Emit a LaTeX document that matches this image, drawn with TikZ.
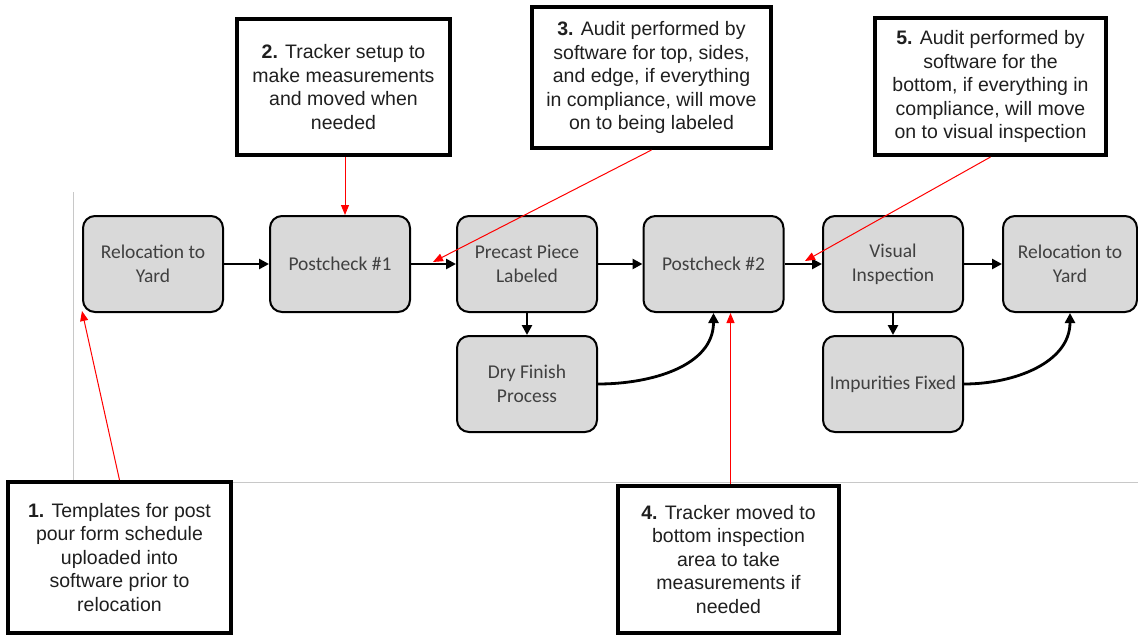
\documentclass[tikz,border=0pt]{standalone}
\usepackage{fontspec}
\setmainfont{Liberation Sans}
\newfontfamily\flowfont{Carlito}
\usetikzlibrary{arrows.meta}
\definecolor{boxgrey}{HTML}{D9D9D9}
\definecolor{flowtext}{HTML}{404040}
\definecolor{notetext}{HTML}{1F1F1F}
\definecolor{axisgrey}{HTML}{C8C8C8}
\tikzset{
  flowbox/.style={draw=black, line width=2pt, fill=boxgrey, rounded corners=12pt,
    minimum width=140pt, minimum height=96pt, align=center, text=flowtext,
    font=\flowfont\fontsize{19.5}{24}\selectfont, inner sep=0pt},
  notebox/.style={draw=black, line width=4pt, fill=white, align=center, text=notetext,
    font=\fontsize{19.5}{23.5}\selectfont, inner sep=0pt},
  flowarrow/.style={draw=black, line width=2.8pt, -{Triangle[width=10pt,length=10pt]}},
  notearrow/.style={draw=red, line width=1pt, -{Triangle[width=8pt,length=10pt]}}
}
\begin{document}
\begin{tikzpicture}[x=1pt,y=-1pt]
\useasboundingbox (0,0) rectangle (1138,635);
% light guide lines
\draw[axisgrey, line width=1pt] (73,192) -- (73,482) -- (1138,482);

% process steps
\node[flowbox] (A) at (153,264) {Relocation to\\Yard};
\node[flowbox] (B) at (340,264) {Postcheck \#1};
\node[flowbox] (C) at (527,264) {Precast Piece\\Labeled};
\node[flowbox] (D) at (713.5,264) {Postcheck \#2};
\node[flowbox] (E) at (527,384) {Dry Finish\\Process};
\node[flowbox] (F) at (893,264) {Visual\\Inspection};
\node[flowbox, minimum width=134pt] (G) at (1070,264) {Relocation to\\Yard};
\node[flowbox] (H) at (893,384) {Impurities Fixed};

% main flow
\draw[flowarrow] (A) -- (B);
\draw[flowarrow] (B) -- (C);
\draw[flowarrow] (C) -- (D);
\draw[flowarrow] (D) -- (F);
\draw[flowarrow] (F) -- (G);
\draw[flowarrow] (C) -- (E);
\draw[flowarrow] (F) -- (H);
\draw[flowarrow] (E.east) to[out=0,in=-90] (D.south);
\draw[flowarrow] (H.east) to[out=0,in=-90] (G.south);

% annotations
\node[notebox, minimum width=223pt, minimum height=151pt] (n1) at (119.5,557.5)
  {\textbf{1.} Templates for post\\pour form schedule\\uploaded into\\software prior to\\relocation};
\node[notebox, minimum width=213pt, minimum height=136pt] (n2) at (343.5,87)
  {\textbf{2.} Tracker setup to\\make measurements\\and moved when\\needed};
\node[notebox, minimum width=239pt, minimum height=141pt] (n3) at (651.5,77.5)
  {\textbf{3.} Audit performed by\\software for top, sides,\\and edge, if everything\\in compliance, will move\\on to being labeled};
\node[notebox, minimum width=221pt, minimum height=147pt] (n4) at (728.5,559.5)
  {\textbf{4.} Tracker moved to\\bottom inspection\\area to take\\measurements if\\needed};
\node[notebox, minimum width=231pt, minimum height=137pt] (n5) at (990.5,86.5)
  {\textbf{5.} Audit performed by\\software for the\\bottom, if everything in\\compliance, will move\\on to visual inspection};

% annotation pointers
\coordinate (p1) at (82,311);
\coordinate (p3) at (433,262);
\coordinate (p5) at (805,261);
\draw[notearrow] (n1.north) -- (p1);
\draw[notearrow] ([xshift=1.5pt]n2.south) -- ([xshift=1.5pt]n2.south |- B.north);
\draw[notearrow] (n3.south) -- (p3);
\draw[notearrow] ([xshift=2pt]n4.north) -- ([xshift=2pt]n4.north |- D.south);
\draw[notearrow] (n5.south) -- (p5);
\end{tikzpicture}
\end{document}
